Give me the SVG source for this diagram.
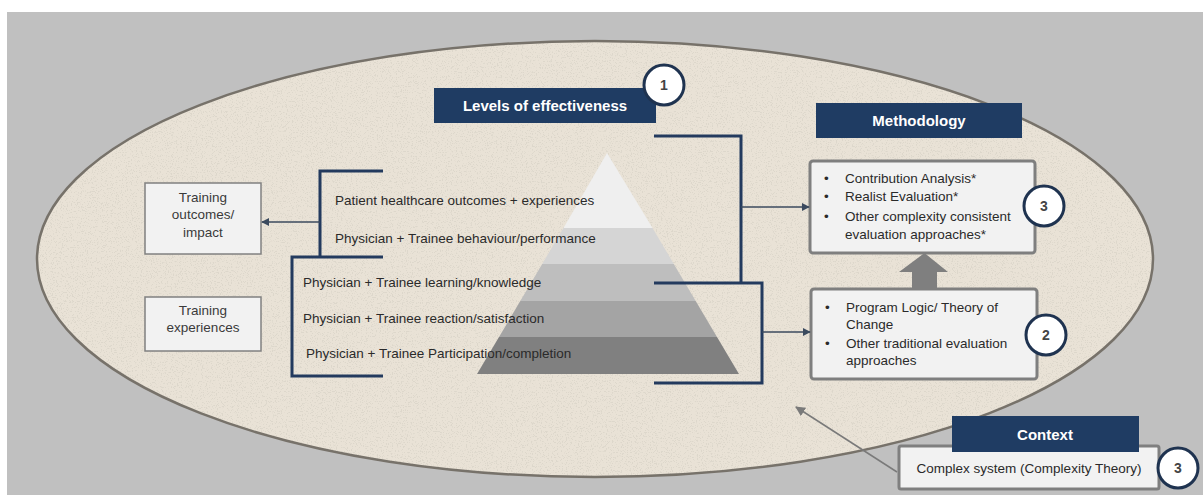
<svg xmlns="http://www.w3.org/2000/svg" width="1203" height="495" viewBox="0 0 1203 495">
<defs>
<style>
.t{font-family:"Liberation Sans",Arial,sans-serif;font-size:13.5px;fill:#2a2a2a}
.tg{font-family:"Liberation Sans",Arial,sans-serif;font-size:13.5px;fill:#3a3a3a}
.bt{font-family:"Liberation Sans",Arial,sans-serif;font-size:15px;font-weight:bold;fill:#ffffff}
.num{font-family:"Liberation Sans",Arial,sans-serif;font-size:14px;font-weight:bold;fill:#444}
.banner{fill:#1f3c63}
.box{fill:#f2f2f2;stroke:#7f7f7f;stroke-width:3}
.tbox{fill:#f2f2f2;stroke:#808080;stroke-width:1.5}
.circ{fill:#ffffff;stroke:#1f3350;stroke-width:3}
.br{fill:none;stroke:#233a5e;stroke-width:3}
.con{fill:none;stroke:#3b4a5e;stroke-width:1.6}
</style>
<marker id="ah" viewBox="0 0 10 10" refX="9" refY="5" markerWidth="8" markerHeight="8" markerUnits="userSpaceOnUse" orient="auto">
<path d="M0,0 L10,5 L0,10 z" fill="#3b4a5e"/>
</marker>
<marker id="ahg" viewBox="0 0 10 10" refX="9" refY="5" markerWidth="10" markerHeight="10" markerUnits="userSpaceOnUse" orient="auto">
<path d="M0,0 L10,5 L0,10 z" fill="#7a7a7a"/>
</marker>
<filter id="speck" x="0" y="0" width="100%" height="100%">
<feTurbulence type="fractalNoise" baseFrequency="0.8" numOctaves="2" seed="3" result="n"/>
<feColorMatrix in="n" type="matrix" values="0 0 0 0 0.72  0 0 0 0 0.68  0 0 0 0 0.6  0 0 0 -9 3.9" result="s"/>
<feComposite in="s" in2="SourceGraphic" operator="in" result="sc"/>
<feMerge><feMergeNode in="SourceGraphic"/><feMergeNode in="sc"/></feMerge>
</filter>
</defs>

<rect x="0" y="0" width="1203" height="495" fill="#ffffff"/>
<rect x="7" y="12" width="1196" height="483" fill="#c0c0c0"/>

<g id="context-ellipse">
<ellipse cx="595" cy="259" rx="558" ry="218" fill="#e9e2d6" filter="url(#speck)"/>
<ellipse cx="595" cy="259" rx="558" ry="218" fill="none" stroke="#77726a" stroke-width="2.5"/>
</g>

<g id="pyramid">
<polygon points="607,153 652.5,228 563.5,228" fill="#efefef"/>
<polygon points="563.5,228 652.5,228 673.8,264 542.2,264" fill="#d5d5d5"/>
<polygon points="542.2,264 673.8,264 695.7,301 520.3,301" fill="#bebebe"/>
<polygon points="520.3,301 695.7,301 717,337 499,337" fill="#a4a4a4"/>
<polygon points="499,337 717,337 739,374 477,374" fill="#808080"/>
</g>

<g id="levels-header">
<rect class="banner" x="434" y="88" width="222" height="35"/>
<text class="bt" x="545" y="111" text-anchor="middle">Levels of effectiveness</text>
<circle class="circ" cx="664" cy="85" r="20"/>
<text class="num" x="664" y="90" text-anchor="middle">1</text>
</g>

<g id="level-texts">
<text class="t" x="335" y="205">Patient healthcare outcomes + experiences</text>
<text class="t" x="335" y="243">Physician + Trainee behaviour/performance</text>
<text class="t" x="303" y="287">Physician + Trainee learning/knowledge</text>
<text class="t" x="303" y="323">Physician + Trainee reaction/satisfaction</text>
<text class="t" x="306" y="358">Physician + Trainee Participation/completion</text>
</g>

<g id="training-outcomes">
<rect class="tbox" x="145" y="183" width="116" height="71"/>
<text class="tg" x="203" y="202" text-anchor="middle">Training</text>
<text class="tg" x="203" y="219" text-anchor="middle">outcomes/</text>
<text class="tg" x="203" y="237" text-anchor="middle">impact</text>
</g>

<g id="training-experiences">
<rect class="tbox" x="145" y="297" width="116" height="54"/>
<text class="tg" x="203" y="315" text-anchor="middle">Training</text>
<text class="tg" x="203" y="332" text-anchor="middle">experiences</text>
</g>

<g id="methodology-header">
<rect class="banner" x="816" y="103" width="206" height="35"/>
<text class="bt" x="919" y="126" text-anchor="middle">Methodology</text>
</g>

<g id="method-complexity">
<rect class="box" x="810" y="161" width="225" height="92" rx="3"/>
<text class="t" x="824" y="183">•</text>
<text class="t" x="845" y="183">Contribution Analysis*</text>
<text class="t" x="824" y="201">•</text>
<text class="t" x="845" y="201">Realist Evaluation*</text>
<text class="t" x="824" y="221">•</text>
<text class="t" x="845" y="221">Other complexity consistent</text>
<text class="t" x="845" y="239">evaluation approaches*</text>
<circle class="circ" cx="1044" cy="206" r="20"/>
<text class="num" x="1044" y="211" text-anchor="middle">3</text>
</g>

<g id="method-traditional">
<rect class="box" x="811" y="289" width="226" height="90" rx="3"/>
<text class="t" x="825" y="312">•</text>
<text class="t" x="846" y="312">Program Logic/ Theory of</text>
<text class="t" x="846" y="329">Change</text>
<text class="t" x="825" y="348">•</text>
<text class="t" x="846" y="348">Other traditional evaluation</text>
<text class="t" x="846" y="365">approaches</text>
<circle class="circ" cx="1046" cy="335" r="20"/>
<text class="num" x="1046" y="340" text-anchor="middle">2</text>
</g>

<g id="context-node">
<rect class="box" x="899" y="446" width="260" height="43" rx="2"/>
<rect class="banner" x="952" y="416" width="187" height="36"/>
<text class="bt" x="1045" y="440" text-anchor="middle">Context</text>
<text class="t" x="1029" y="473" text-anchor="middle">Complex system (Complexity Theory)</text>
<circle class="circ" cx="1178" cy="468" r="20"/>
<text class="num" x="1178" y="473" text-anchor="middle">3</text>
</g>

<g id="connectors">
<path class="br" d="M383,171 H320 V258"/>
<path class="br" d="M383,257 H292 V376 H383"/>
<path class="con" d="M320,222 H262" marker-end="url(#ah)"/>
<path class="br" d="M654,136 H741 V283"/>
<path class="br" d="M654,283 H762 V383 H654"/>
<path class="con" d="M741,207 H809" marker-end="url(#ah)"/>
<path class="con" d="M762,332 H810" marker-end="url(#ah)"/>
<polygon points="912,290 937,290 937,272 948,272 924.5,253 899,272 912,272" fill="#7f7f7f"/>
<path d="M897,472 L796,407" fill="none" stroke="#7a7a7a" stroke-width="1.5" marker-end="url(#ahg)"/>
</g>
</svg>
